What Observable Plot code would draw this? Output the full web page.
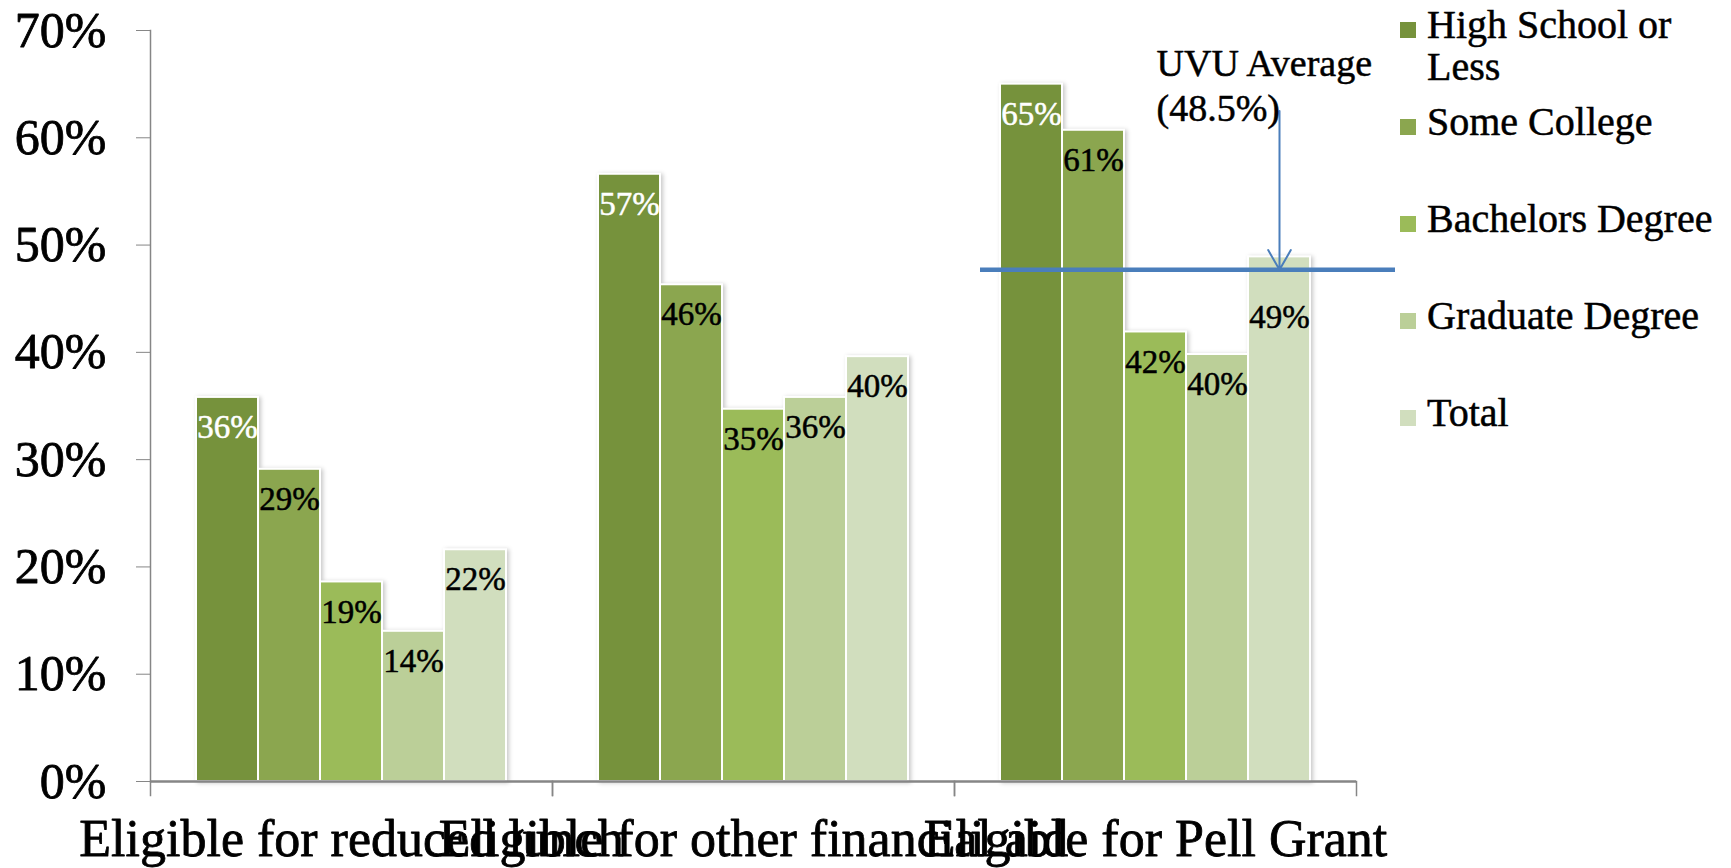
<!DOCTYPE html>
<html><head><meta charset="utf-8">
<script src="https://cdn.jsdelivr.net/npm/d3@7"></script>
<script src="https://cdn.jsdelivr.net/npm/@observablehq/plot@0.6"></script>
<style>
body{margin:0;background:#fff;}
#wrap{position:relative;width:1731px;height:868px;font-family:"Liberation Serif",serif;}
.leg{position:absolute;left:1400px;width:330px;font-size:40px;line-height:42px;color:#000;-webkit-text-stroke:0.5px #000;}
.leg .sw{position:absolute;left:0;top:18px;width:16px;height:16px;}
.leg .tx{position:absolute;left:27px;top:0;width:300px;}
</style></head><body><div id="wrap"></div>
<script>
const categories = ["Eligible for reduced lunch", "Eligible for other financial aid", "Eligible for Pell Grant"];
const series = ["High School or Less", "Some College", "Bachelors Degree", "Graduate Degree", "Total"];
const highSchool = [35.8, 56.6, 65.0];
const someCollege = [29.1, 46.3, 60.7];
const bachelors = [18.6, 34.7, 41.9];
const graduate = [14.0, 35.8, 39.8];
const total = [21.6, 39.6, 48.9];
const seriesValues = [highSchool, someCollege, bachelors, graduate, total];
const colors = ["#76923C", "#8BA64F", "#9BBB59", "#BBCF98", "#D1DEBE"];
const yTicks = [0, 10, 20, 30, 40, 50, 60, 70];
const uvuLevel = 47.7;
const uvuArrowFrom = 62.5;
const uvuTextLevel = 68.8;
const uvuText = "UVU Average\n(48.5%)";

const table = categories.flatMap((c, i) => series.map((s, j) => ({category: c, series: s, value: seriesValues[j][i]})));

const W = 1731, H = 868, mL = 149, mR = 375, mT = 30, mB = 87;
const plotH = H - mT - mB;
const axisGray = "#868686";
const blue = "#4A7EBB";
const lab = d => Math.round(d.value) + "%";
// labels whose usual spot would collide with the UVU line are pushed below it
const nearLine = d => d.value > uvuLevel && d.value - uvuLevel < 3;

const chart = Plot.plot({
  width: W, height: H,
  marginLeft: mL, marginRight: mR, marginTop: mT, marginBottom: mB,
  style: {fontFamily: '"Liberation Serif", serif', background: "white", color: "black", overflow: "visible"},
  fx: {domain: categories, padding: 0},
  x: {domain: series, paddingInner: 0, paddingOuter: 0.72, axis: null},
  y: {domain: [0, 70], axis: null},
  color: {domain: series, range: colors},
  marks: [
    Plot.barY(table, {fx: "category", x: "series", y: "value", fill: "series", stroke: "white", strokeWidth: 2,
      imageFilter: "drop-shadow(2px 1px 2px rgba(0,0,0,0.22))"}),
    Plot.ruleY([0], {stroke: axisGray, strokeWidth: 2.5}),
    Plot.frame({anchor: "left", insetTop: plotH, insetBottom: -14, stroke: axisGray, strokeWidth: 1.5}),
    Plot.frame({anchor: "right", insetTop: plotH, insetBottom: -14, stroke: axisGray, strokeWidth: 1.5}),
    Plot.frame({anchor: "left", facetAnchor: "left", stroke: axisGray, strokeWidth: 1.5}),
    Plot.axisY({ticks: yTicks, tickSize: 14, tickPadding: 30, fontSize: 50, tickFormat: d => d + "%", stroke: axisGray, label: null,
      textStroke: "black", textStrokeWidth: 0.8}),
    Plot.axisFx({anchor: "bottom", tickSize: 0, tickPadding: 38, fontSize: 52, label: null,
      textStroke: "black", textStrokeWidth: 0.8}),
    Plot.text(table.filter(d => d.series === series[0]), {fx: "category", x: "series", y: "value", text: lab, dy: 30, fill: "white", fontSize: 33,
      stroke: "white", strokeWidth: 0.5}),
    Plot.text(table.filter(d => d.series !== series[0] && !nearLine(d)), {fx: "category", x: "series", y: "value", text: lab, dy: 30, fill: "black", fontSize: 33,
      stroke: "black", strokeWidth: 0.5}),
    Plot.text(table.filter(d => d.series !== series[0] && nearLine(d)), {fx: "category", x: "series", y: "value", text: lab, dy: 61, fill: "black", fontSize: 33,
      stroke: "black", strokeWidth: 0.5}),
    Plot.ruleY([{category: categories[2], level: uvuLevel}], {fx: "category", y: "level", stroke: blue, strokeWidth: 4.5, insetLeft: 26, insetRight: -39}),
    Plot.arrow([{category: categories[2], s: series[4], from: uvuArrowFrom, to: uvuLevel}], {fx: "category", x1: "s", x2: "s", y1: "from", y2: "to", stroke: blue, strokeWidth: 2, headLength: 17, headAngle: 60}),
    Plot.text([{category: categories[2], s: series[2], level: uvuTextLevel, label: uvuText}], {fx: "category", x: "s", y: "level", text: "label", textAnchor: "start", lineAnchor: "top", dx: 1, fontSize: 38, lineHeight: 1.2, fill: "black", stroke: "black", strokeWidth: 0.5})
  ]
});
const wrap = document.getElementById("wrap");
wrap.appendChild(chart);

series.forEach((s, i) => {
  const item = document.createElement("div");
  item.className = "leg";
  item.style.top = (4 + i * 97) + "px";
  const sw = document.createElement("div");
  sw.className = "sw";
  sw.style.background = colors[i];
  const tx = document.createElement("div");
  tx.className = "tx";
  tx.textContent = s;
  item.appendChild(sw);
  item.appendChild(tx);
  wrap.appendChild(item);
});
</script></body></html>
